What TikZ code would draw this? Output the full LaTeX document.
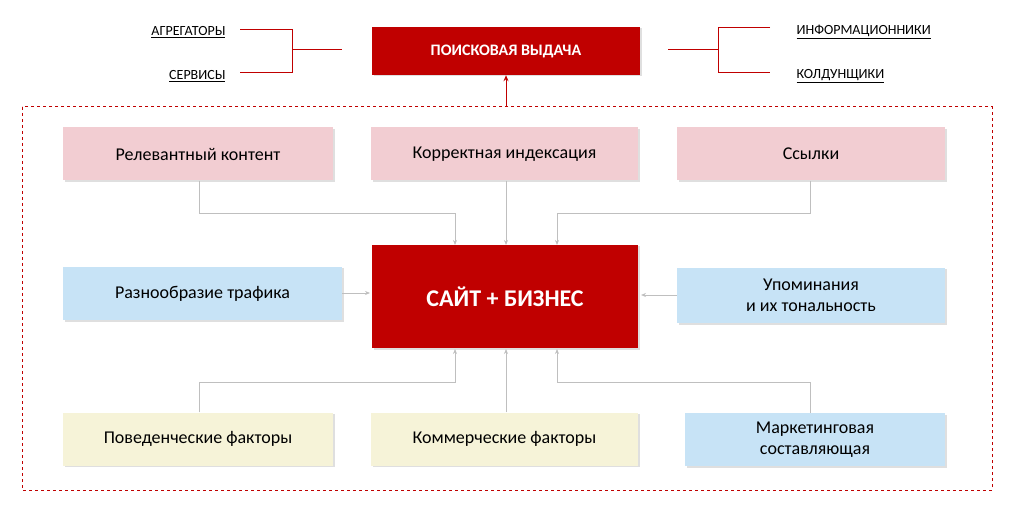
\documentclass[tikz,border=0pt]{standalone}
\usepackage{fontspec}
\setmainfont{Carlito}
\usetikzlibrary{arrows.meta,shadows}
\definecolor{dred}{HTML}{C00000}
\definecolor{pinkb}{HTML}{F2CDD2}
\definecolor{blueb}{HTML}{C7E3F6}
\definecolor{yelb}{HTML}{F6F3D8}
\definecolor{conn}{HTML}{BFBFBF}
\begin{document}
\begin{tikzpicture}[x=1pt,y=-1pt,
 box/.style={draw=none,minimum height=53pt,align=center,font=\fontsize{18}{21}\selectfont,
   drop shadow={shadow xshift=1.5pt,shadow yshift=-1.5pt,opacity=.25}},
 lbl/.style={font=\fontsize{14}{16}\selectfont},
 gc/.style={conn,line width=0.8pt,-{Stealth[length=5pt,width=4pt]}},
 rl/.style={dred,line width=1pt}]
\useasboundingbox (0,0) rectangle (1024,518);
\node[box,fill=dred,text=white,minimum width=268pt,minimum height=48pt,font=\fontsize{16}{19}\selectfont\bfseries] (top) at (506,51) {ПОИСКОВАЯ ВЫДАЧА};
\node[lbl,anchor=east] (ag) at (229,32) {\underline{АГРЕГАТОРЫ}};
\node[lbl,anchor=east] (se) at (229,76) {\underline{СЕРВИСЫ}};
\node[lbl,anchor=west] (inf) at (793,32) {\underline{ИНФОРМАЦИОННИКИ}};
\node[lbl,anchor=west] (kol) at (793,76) {\underline{КОЛДУНЩИКИ}};
\coordinate (lj) at (292,50); \coordinate (rj) at (718,50);
\draw[rl] (240,30) -- (292,30) -- (292,73) -- (240,73);
\draw[rl] (lj) -- (342,50);
\draw[rl] (770,28) -- (718,28) -- (718,73) -- (770,73);
\draw[rl] (668,50) -- (rj);
\draw[dred,line width=1pt,dashed] (22,107) rectangle (992,490);
\coordinate (da) at (506,107);
\draw[dred,line width=1pt,-{Stealth[length=6pt,width=5pt]}] (da) -- (top.south);
\node[box,fill=pinkb,minimum width=270pt] (p1) at (198,154) {Релевантный контент};
\node[box,fill=pinkb,minimum width=267pt] (p2) at (504.5,154) {Корректная индексация};
\node[box,fill=pinkb,minimum width=268pt] (p3) at (811,154) {Ссылки};
\node[box,fill=dred,text=white,minimum width=266pt,minimum height=103pt,font=\fontsize{24}{28}\selectfont\bfseries] (c) at (505,296.5) {САЙТ + БИЗНЕС};
\node[box,fill=blueb,minimum width=279pt] (b1) at (202.5,293.5) {Разнообразие трафика};
\node[box,fill=blueb,minimum width=268pt,minimum height=55pt] (b2) at (811,295.5) {Упоминания\\и их тональность};
\node[box,fill=yelb,minimum width=270pt] (y1) at (198,439) {Поведенческие факторы};
\node[box,fill=yelb,minimum width=267pt] (y2) at (504.5,439) {Коммерческие факторы};
\node[box,fill=blueb,minimum width=260pt] (b3) at (815,439.5) {Маркетинговая\\составляющая};
\draw[gc] (p1.south -| 199,0) -- (199,213) -- (455,213) -- (455,245);
\draw[gc] (p2.south -| 506,0) -- (506,245);
\draw[gc] (p3.south -| 810,0) -- (810,213) -- (557,213) -- (557,245);
\draw[gc] (b1.east |- 0,293) -- (370,293);
\draw[gc] (b2.west |- 0,295) -- (641,295);
\draw[gc] (y1.north -| 199,0) -- (199,382) -- (455,382) -- (455,349);
\draw[gc] (y2.north -| 506,0) -- (506,349);
\draw[gc] (b3.north -| 810,0) -- (810,382) -- (557,382) -- (557,349);
\end{tikzpicture}
\end{document}
